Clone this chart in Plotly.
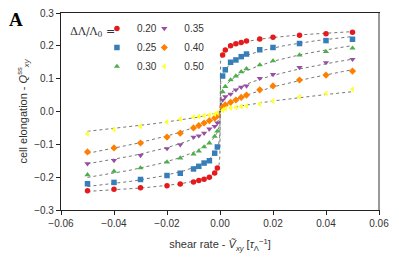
import numpy as np
import plotly.graph_objects as go

# shear rate values (positive side; data is antisymmetric)
shear_pos = [0.001, 0.002, 0.004, 0.006, 0.008, 0.01, 0.015, 0.02, 0.03, 0.04, 0.05]
labels = ["0.20", "0.25", "0.30", "0.35", "0.40", "0.50"]
q_020 = [0.172, 0.187, 0.200, 0.206, 0.210, 0.215, 0.221, 0.226, 0.232, 0.237, 0.241]
q_025 = [0.108, 0.127, 0.150, 0.157, 0.167, 0.175, 0.188, 0.195, 0.207, 0.216, 0.220]
q_030 = [0.060, 0.076, 0.096, 0.108, 0.121, 0.130, 0.142, 0.154, 0.172, 0.182, 0.193]
q_035 = [0.035, 0.045, 0.053, 0.066, 0.074, 0.078, 0.101, 0.113, 0.134, 0.149, 0.159]
q_040 = [0.013, 0.020, 0.028, 0.035, 0.043, 0.050, 0.066, 0.078, 0.096, 0.111, 0.123]
q_050 = [0.004, 0.008, 0.011, 0.013, 0.015, 0.017, 0.023, 0.032, 0.045, 0.055, 0.068]
series = [q_020, q_025, q_030, q_035, q_040, q_050]
colors = ["#e41a1c", "#377eb8", "#4daf4a", "#984ea3", "#ff7f00", "#ffff33"]
symbols = ["circle", "square", "triangle-up", "triangle-down", "diamond", "triangle-left"]

xp = np.array(shear_pos)
x_all = np.concatenate([-xp[::-1], xp])

fig = go.Figure()
# fitted power-law curves
xs = np.geomspace(1e-6, 0.05, 300)
xfit = np.concatenate([-xs[::-1], [0.0], xs])
for q in series:
    qp = np.array(q)
    p, c = np.polyfit(np.log(xp), np.log(qp), 1)
    yfit = np.sign(xfit) * np.exp(c) * np.abs(xfit) ** p
    fig.add_trace(go.Scatter(x=xfit, y=yfit, mode="lines", showlegend=False,
                             line=dict(color="rgba(60,60,60,0.7)", width=1, dash="dot"),
                             hoverinfo="skip"))

for i, (q, lab, col, sym) in enumerate(zip(series, labels, colors, symbols)):
    qp = np.array(q)
    y_all = np.concatenate([-qp[::-1], qp])
    fig.add_trace(go.Scatter(x=x_all, y=y_all, mode="markers", name=lab,
                             marker=dict(color=col, symbol=sym, size=5.5, line=dict(width=0)),
                             legend="legend" if i < 3 else "legend2"))

sans = "Liberation Sans, Arial, sans-serif"
tickfont = dict(family=sans, size=10, color="#333")
legfont = dict(family=sans, size=10, color="#333")
fig.update_layout(
    width=399, height=261,
    margin=dict(l=61, r=20, t=13, b=51, autoexpand=False),
    paper_bgcolor="white", plot_bgcolor="white",
    showlegend=True,
    legend=dict(x=0.113, y=0.995, xanchor="left", yanchor="top", bgcolor="rgba(0,0,0,0)",
                font=legfont, itemwidth=30, tracegroupgap=0),
    legend2=dict(x=0.262, y=0.995, xanchor="left", yanchor="top", bgcolor="rgba(0,0,0,0)",
                 font=legfont, itemwidth=30, tracegroupgap=0),
    xaxis=dict(range=[-0.06, 0.06], tickvals=[-0.06, -0.04, -0.02, 0, 0.02, 0.04, 0.06],
               tickformat=".2f", showgrid=False, zeroline=False, showline=True,
               linecolor="#222", linewidth=1.2, mirror=True, ticks="outside", ticklen=4,
               tickcolor="#222", tickfont=tickfont, automargin=False,
               title=dict(text="shear rate - <i>Ṽ</i><sub><i>xy</i></sub> [<i>τ</i><sub>Λ</sub><sup>−1</sup>]",
                          font=dict(family=sans, size=11, color="#333"),
                          standoff=12)),
    yaxis=dict(range=[-0.3, 0.3], tickvals=[-0.3, -0.2, -0.1, 0, 0.1, 0.2, 0.3],
               tickformat=".1f", showgrid=False, zeroline=False, showline=True,
               linecolor="#222", linewidth=1.2, mirror=True, ticks="outside", ticklen=4,
               tickcolor="#222", tickfont=tickfont, automargin=False,
               title=dict(text="cell elongation - <i>Q</i><sup>ss</sup><sub><i>xy</i></sub>",
                          font=dict(family=sans, size=11, color="#333"),
                          standoff=4)),
)
fig.add_shape(type="line", xref="paper", yref="paper", x0=1, x1=1, y0=0, y1=1,
              line=dict(color="#999", width=2))
fig.add_annotation(text="ΔΛ/Λ<sub>0</sub> =", xref="paper", yref="paper", x=0.022, y=0.905,
                   xanchor="left", yanchor="middle", showarrow=False,
                   font=dict(family="DejaVu Serif, Liberation Serif, serif", size=11, color="#333"))
fig.add_annotation(text="<b>A</b>", xref="paper", yref="paper", x=-0.17, y=1.03,
                   xanchor="left", yanchor="top", showarrow=False,
                   font=dict(family="Liberation Serif, DejaVu Serif, serif", size=19, color="black"))
fig.write_html("out.html", config={"displayModeBar": False},
               post_script="document.body.style.margin='0';")
